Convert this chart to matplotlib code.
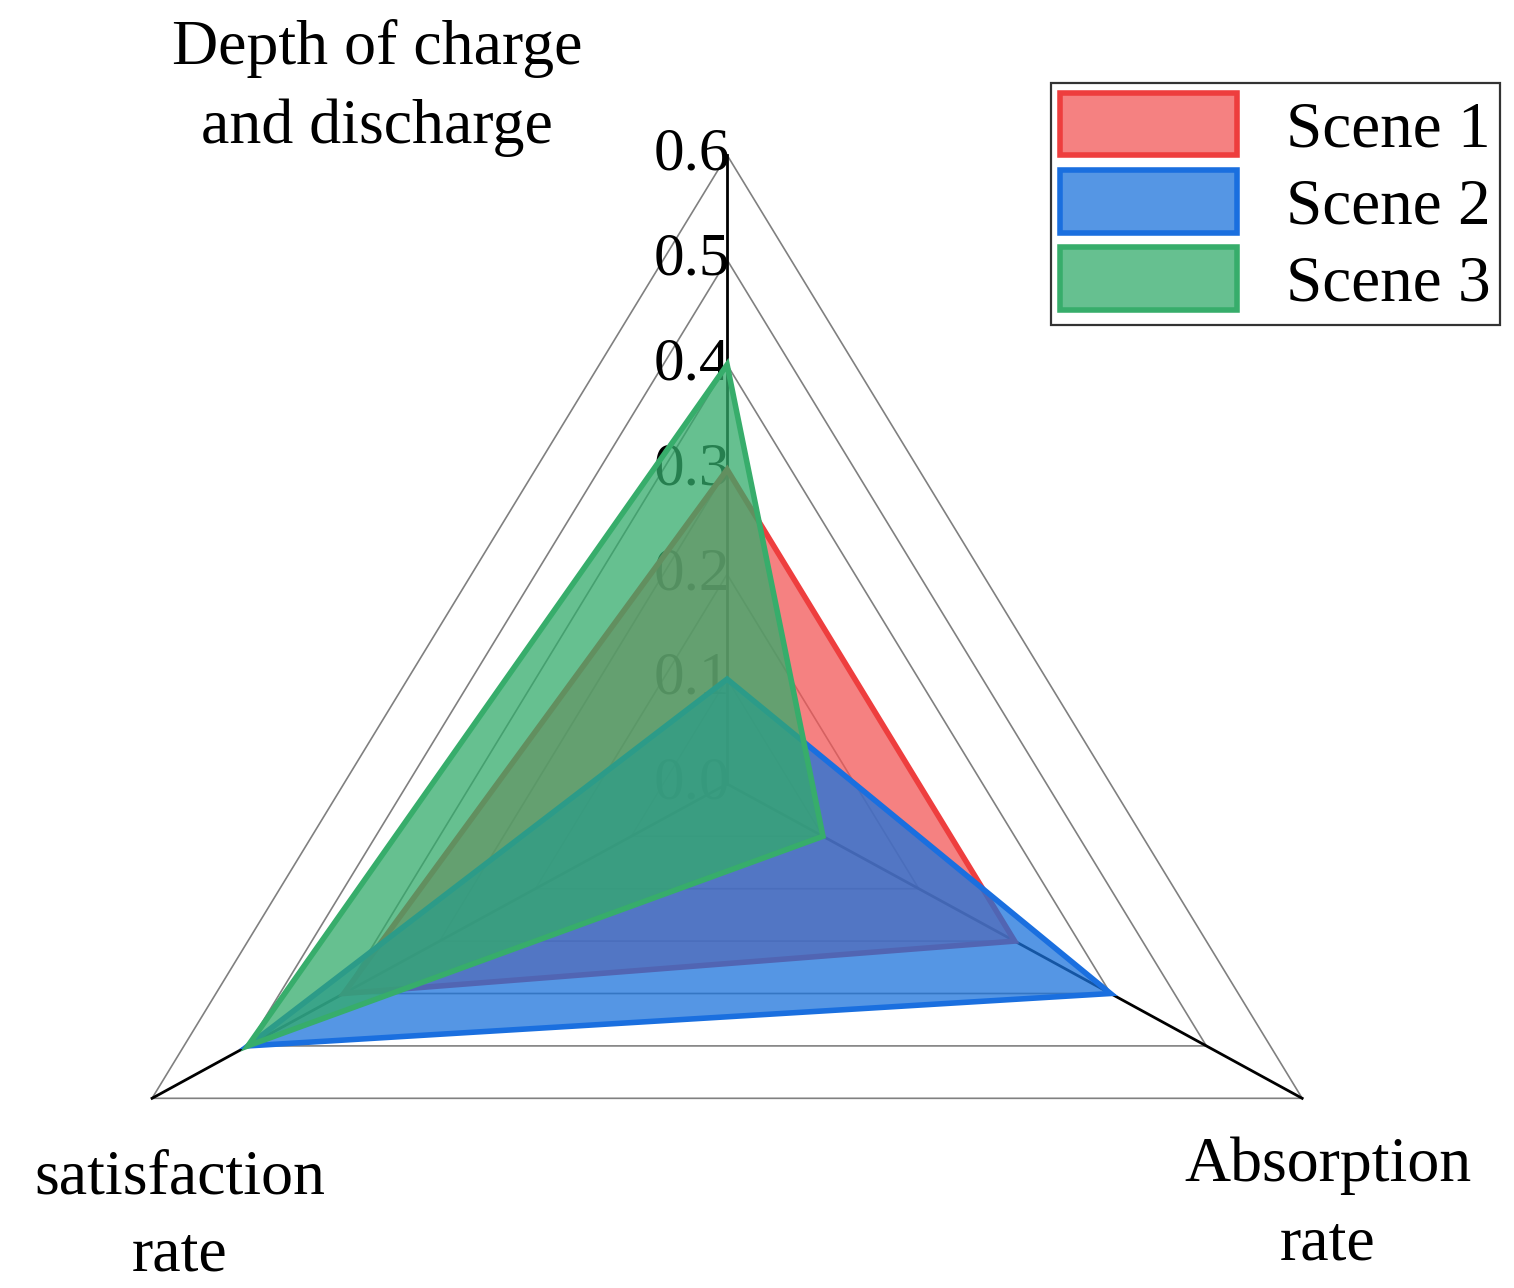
import numpy as np
import matplotlib
matplotlib.use('Agg')
import matplotlib.pyplot as plt
from matplotlib.patches import Patch

plt.rcParams['font.family'] = ['Liberation Serif', 'DejaVu Serif']

# axes of the radar, clockwise from the top
labels = ['Depth of charge\nand discharge', 'Absorption\nrate', 'satisfaction\nrate']
scenes = ['Scene 1', 'Scene 2', 'Scene 3']
scene1 = [0.3, 0.3, 0.4]
scene2 = [0.1, 0.4, 0.5]
scene3 = [0.4, 0.1, 0.5]
rings = [0.1, 0.2, 0.3, 0.4, 0.5, 0.6]
ring_labels = ['0.0', '0.1', '0.2', '0.3', '0.4', '0.5', '0.6']

edge_cols = ['#EE3E3E', '#1A6FDF', '#37AD6B']
face_cols = [(0.95, 0.34, 0.34, 0.75), (0.11, 0.45, 0.86, 0.75), (0.2, 0.67, 0.42, 0.75)]

ang = np.deg2rad([0, 120, 240])

def xy(vals):
    v = np.asarray(vals)
    return v * np.sin(ang), v * np.cos(ang)

fig = plt.figure(figsize=(15.14, 12.88), dpi=100)
ax = fig.add_axes([0, 0, 1, 1])
ax.set_xlim(-0.657, 0.711)
ax.set_ylim(-0.481, 0.748)
ax.axis('off')

# grid triangles
for r in rings:
    x, y = xy([r, r, r])
    ax.fill(x, y, facecolor='none', edgecolor='#808080', lw=1.2, zorder=1)

# spokes
for a in ang:
    ax.plot([0, 0.6 * np.sin(a)], [0, 0.6 * np.cos(a)], color='black', lw=2.0, zorder=2)

# ring labels on the top axis
for i, t in enumerate(ring_labels):
    ax.text(0.003, i * 0.1, t, ha='right', va='center', fontsize=44, zorder=2)

handles = []
for vals, ec, fc, name in zip([scene1, scene2, scene3], edge_cols, face_cols, scenes):
    x, y = xy(vals)
    ax.fill(x, y, facecolor=fc, edgecolor=ec, lw=4, zorder=3, joinstyle='miter')
    handles.append(Patch(facecolor=fc, edgecolor=ec, lw=4, label=name))

fig.text(377 / 1514, 1 - 88 / 1288, labels[0], ha='center', va='center', fontsize=46, linespacing=1.45)
fig.text(1328 / 1514, 1 - 1205 / 1288, labels[1], ha='center', va='center', fontsize=46, linespacing=1.45)
fig.text(180 / 1514, 1 - 1217 / 1288, labels[2], ha='center', va='center', fontsize=46, linespacing=1.45)

leg = ax.legend(handles=handles, loc='upper right', bbox_to_anchor=(1500 / 1514, 1 - 83 / 1288),
                bbox_transform=fig.transFigure, fontsize=47, frameon=True, fancybox=False,
                edgecolor='black', handlelength=2.7, handleheight=1.1, handletextpad=0.75,
                labelspacing=0.15, borderpad=0.15, borderaxespad=0)
leg.get_frame().set_linewidth(1.6)

fig.savefig('out.png', dpi=100)
